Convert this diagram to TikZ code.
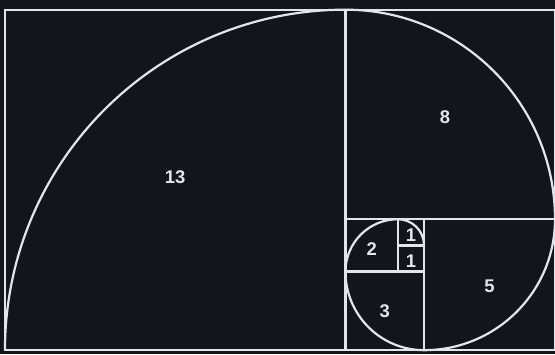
\documentclass[tikz,border=0pt]{standalone}
\usepackage{fontspec}
\setsansfont{Liberation Sans}
\usepackage{xcolor}
\definecolor{Ink}{HTML}{13151B}
\definecolor{Chalk}{HTML}{E4E4EC}
\colorlet{ink}{Ink}
\colorlet{chalk}{Chalk}
\usepackage{tikz}

\begin{document}
\begin{tikzpicture}[line width=2.4pt, every node/.style={font=\sffamily\bfseries\fontsize{20}{20}\selectfont,text=chalk}]
\fill[ink] (-0.19,-0.15) rectangle (21,13.37);
\useasboundingbox (-0.19,-0.15) rectangle (21,13.37);
% squares
\draw[chalk] (0,0) rectangle (21,13);
\draw[chalk] (13,0) -- (13,13);
\draw[chalk] (13,5) -- (21,5);
\draw[chalk] (16,0) -- (16,5);
\draw[chalk] (13,3) -- (16,3);
\draw[chalk] (15,3) -- (15,5);
\draw[chalk] (15,4) -- (16,4);
% spiral
\draw[chalk] (0,0) arc[start angle=180,end angle=90,radius=13]
  arc[start angle=90,end angle=0,radius=8]
  arc[start angle=0,end angle=-90,radius=5]
  arc[start angle=-90,end angle=-180,radius=3]
  arc[start angle=180,end angle=90,radius=2]
  arc[start angle=90,end angle=0,radius=1];
% labels
\node (n13) at (6.5,6.6) {13};
\node (n8) at (16.8,8.9) {8};
\node (n5) at (18.5,2.45) {5};
\node (n3) at (14.5,1.5) {3};
\node (n2) at (14,3.85) {2};
\node (n1a) at (15.5,4.4) {1};
\node (n1b) at (15.5,3.4) {1};
\end{tikzpicture}
\end{document}
